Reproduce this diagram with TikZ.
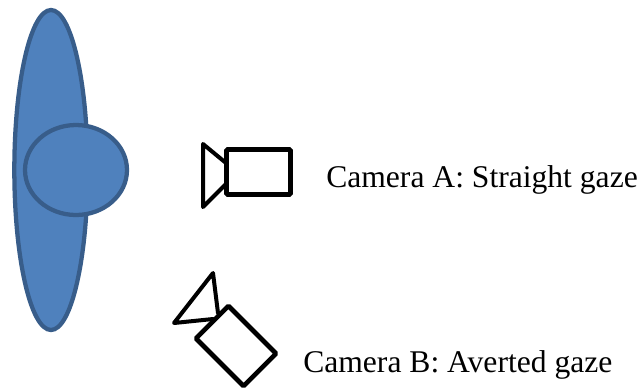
\documentclass[tikz,border=0pt]{standalone}
\usepackage{fontspec}
\setmainfont{Liberation Serif}
\usetikzlibrary{shapes.geometric}
\definecolor{shapefill}{HTML}{4F81BD}
\definecolor{shapeline}{HTML}{385D8A}

\begin{document}
\begin{tikzpicture}[x=0.75pt,y=-0.75pt,
    blob/.style={ellipse,draw=shapeline,fill=shapefill,line width=3.2pt,inner sep=0pt},
    cambody/.style={rectangle,draw=black,fill=white,line width=3.5pt,rounded corners=0.8pt,inner sep=0pt},
    camline/.style={draw=black,line width=3pt,line join=round,line cap=round},
    caption/.style={anchor=base west,inner sep=0pt,font=\fontsize{23.7pt}{28pt}\selectfont}]
  \useasboundingbox (0,0) rectangle (642,387);

  \node (body) at (51,170) [blob,minimum width=55pt,minimum height=240pt] {};
  \node (head) at (76,170) [blob,minimum width=76.5pt,minimum height=67.5pt] {};

  \coordinate (a1) at (226,163);
  \coordinate (a2) at (203,144);
  \coordinate (a3) at (203,207);
  \coordinate (a4) at (226,184);
  \draw [camline] (a1) -- (a2) -- (a3) -- (a4);
  \node (camA) at (258.5,172) [cambody,minimum width=48pt,minimum height=33.75pt] {};

  \coordinate (b1) at (218,313);
  \coordinate (b2) at (213,273);
  \coordinate (b3) at (174,323);
  \coordinate (b4) at (213,319);
  \draw [camline] (b1) -- (b2) -- (b3) -- (b4);
  \node (camB) at (236,346) [cambody,rotate=-45,minimum width=50.5pt,minimum height=34.5pt] {};

  \node (labelA) at (326,187.5) [caption] {Camera A: Straight gaze};
  \node (labelB) at (303,372.5) [caption] {Camera B: Averted gaze};
\end{tikzpicture}
\end{document}
